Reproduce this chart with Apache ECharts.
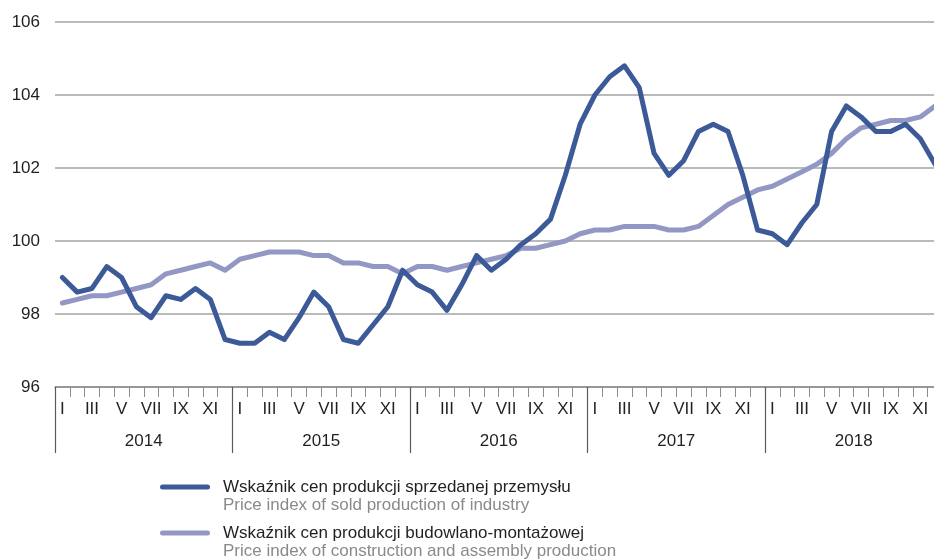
<!DOCTYPE html>
<html>
<head>
<meta charset="utf-8">
<script src="https://cdn.jsdelivr.net/npm/echarts@6/dist/echarts.min.js"></script>
<style>html,body{margin:0;padding:0;background:#fff}#c{width:934px;height:560px}</style>
</head>
<body>
<div id="c"></div>
<script>
const monthNames = ['I','II','III','IV','V','VI','VII','VIII','IX','X','XI','XII'];
const years = ['2014','2015','2016','2017','2018'];
const yTicks = [96, 98, 100, 102, 104, 106];

const industryPL = 'Wskaźnik cen produkcji sprzedanej przemysłu';
const industryEN = 'Price index of sold production of industry';
const constructionPL = 'Wskaźnik cen produkcji budowlano-montażowej';
const constructionEN = 'Price index of construction and assembly production';

const industry = [
  99.0, 98.6, 98.7, 99.3, 99.0, 98.2, 97.9, 98.5, 98.4, 98.7, 98.4, 97.3,
  97.2, 97.2, 97.5, 97.3, 97.9, 98.6, 98.2, 97.3, 97.2, 97.7, 98.2, 99.2,
  98.8, 98.6, 98.1, 98.8, 99.6, 99.2, 99.5, 99.9, 100.2, 100.6, 101.8, 103.2,
  104.0, 104.5, 104.8, 104.2, 102.4, 101.8, 102.2, 103.0, 103.2, 103.0, 101.8, 100.3,
  100.2, 99.9, 100.5, 101.0, 103.0, 103.7, 103.4, 103.0, 103.0, 103.2, 102.8, 102.1
];
const construction = [
  98.3, 98.4, 98.5, 98.5, 98.6, 98.7, 98.8, 99.1, 99.2, 99.3, 99.4, 99.2,
  99.5, 99.6, 99.7, 99.7, 99.7, 99.6, 99.6, 99.4, 99.4, 99.3, 99.3, 99.1,
  99.3, 99.3, 99.2, 99.3, 99.4, 99.5, 99.6, 99.8, 99.8, 99.9, 100.0, 100.2,
  100.3, 100.3, 100.4, 100.4, 100.4, 100.3, 100.3, 100.4, 100.7, 101.0, 101.2, 101.4,
  101.5, 101.7, 101.9, 102.1, 102.4, 102.8, 103.1, 103.2, 103.3, 103.3, 103.4, 103.7
];

const categories = [];
years.forEach(y => monthNames.forEach(m => categories.push(y + '-' + m)));

const chart = echarts.init(document.getElementById('c'));
const FONT = 'Liberation Sans';
const pill = 'path://M2.5,0H47.5A2.5,2.5 0 0 1 47.5,5H2.5A2.5,2.5 0 0 1 2.5,0Z';
const legendText = {
  fontFamily: FONT,
  padding: [18, 0, 0, 8],
  rich: {
    a: { fontFamily: FONT, fontSize: 17, color: '#231f20', lineHeight: 18 },
    b: { fontFamily: FONT, fontSize: 17, color: '#8a8a8a', lineHeight: 18 }
  }
};
function fmt(name) {
  return name === industryPL
    ? '{a|' + industryPL + '}\n{b|' + industryEN + '}'
    : '{a|' + constructionPL + '}\n{b|' + constructionEN + '}';
}

chart.setOption({
  animation: false,
  backgroundColor: '#ffffff',
  grid: { left: 55, width: 887.5, top: 22, bottom: 173, containLabel: false, outerBoundsMode: 'none' },
  legend: [
    { data: [industryPL], orient: 'vertical', left: 160, top: 478.5, padding: 0,
      icon: pill, itemWidth: 50, itemHeight: 5, textStyle: legendText, formatter: fmt },
    { data: [constructionPL], orient: 'vertical', left: 160, top: 524.5, padding: 0,
      icon: pill, itemWidth: 50, itemHeight: 5, textStyle: legendText, formatter: fmt }
  ],
  xAxis: [
    {
      type: 'category', data: categories, boundaryGap: true, position: 'bottom',
      axisLine: { show: true, lineStyle: { color: '#8c8c8c', width: 1.5 } },
      axisTick: { show: true, interval: 0, length: 10, lineStyle: { color: '#8c8c8c', width: 1 } },
      axisLabel: {
        interval: 1, margin: 14, fontFamily: FONT, fontSize: 17, color: '#231f20',
        formatter: v => v.split('-')[1]
      },
      splitLine: { show: false }
    },
    {
      type: 'category', data: years, boundaryGap: true, position: 'bottom', gridIndex: 0,
      axisLine: { show: false },
      axisTick: { show: true, interval: 0, length: 66, lineStyle: { color: '#5a5a5a', width: 1.2 } },
      axisLabel: { interval: 0, margin: 46, fontFamily: FONT, fontSize: 17, color: '#231f20' },
      splitLine: { show: false }
    }
  ],
  yAxis: {
    type: 'value', min: yTicks[0], max: yTicks[yTicks.length - 1], interval: 2,
    axisLine: { show: false }, axisTick: { show: false },
    axisLabel: { margin: 15, fontFamily: FONT, fontSize: 17, color: '#231f20' },
    splitLine: { show: true, lineStyle: { color: '#a3a3a3', width: 1.5 } }
  },
  series: [
    {
      name: constructionPL, type: 'line', xAxisIndex: 0, data: construction,
      symbol: 'none', smooth: false, z: 2,
      lineStyle: { color: '#9297c4', width: 5, join: 'round', cap: 'round' },
      itemStyle: { color: '#9297c4' }
    },
    {
      name: industryPL, type: 'line', xAxisIndex: 0, data: industry,
      symbol: 'none', smooth: false, z: 3,
      lineStyle: { color: '#3c5a98', width: 5, join: 'round', cap: 'round' },
      itemStyle: { color: '#3c5a98' }
    }
  ]
});
</script>
</body>
</html>
